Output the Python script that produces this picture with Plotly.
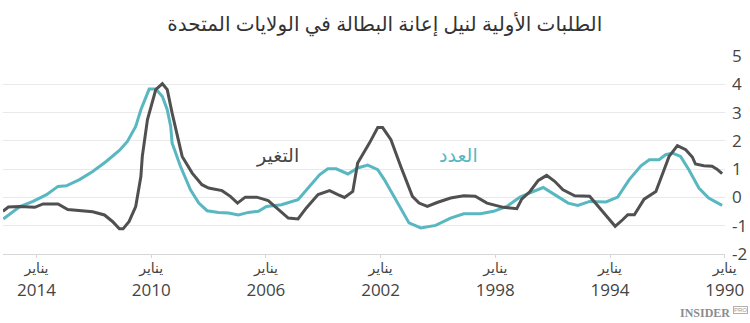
import plotly.graph_objects as go

# ---- data ----
count_years = [2015.16, 2014.58, 2014.12, 2013.65, 2013.25, 2012.96, 2012.50, 2012.04, 2011.57, 2011.11,
               2010.83, 2010.54, 2010.36, 2010.07, 2009.84, 2009.61, 2009.44, 2009.32, 2009.27, 2008.98,
               2008.63, 2008.34, 2008.05, 2007.65, 2007.30, 2006.96, 2006.61, 2006.26, 2005.98, 2005.46,
               2004.88, 2004.42, 2004.13, 2003.84, 2003.55, 2003.14, 2002.80, 2002.45, 2002.10, 2001.87,
               2001.64, 2001.35, 2001.01, 2000.60, 2000.08, 1999.56, 1999.10, 1998.52, 1998.06, 1997.60,
               1997.14, 1996.79, 1996.33, 1995.93, 1995.46, 1995.12, 1994.71, 1994.14, 1993.73, 1993.33,
               1992.92, 1992.63, 1992.29, 1992.06, 1991.82, 1991.54, 1991.25, 1990.90, 1990.56, 1990.09]
count_values = [-0.76, -0.32, -0.14, 0.10, 0.39, 0.41, 0.63, 0.92, 1.27, 1.66,
                1.98, 2.51, 3.10, 3.83, 3.83, 3.57, 3.10, 2.51, 1.92, 1.10,
                0.27, -0.20, -0.47, -0.53, -0.55, -0.62, -0.53, -0.49, -0.32, -0.26,
                -0.08, 0.45, 0.80, 1.01, 1.01, 0.83, 1.04, 1.14, 0.98, 0.63,
                0.21, -0.32, -0.90, -1.08, -0.99, -0.73, -0.58, -0.58, -0.49, -0.32,
                0.01, 0.16, 0.35, 0.10, -0.20, -0.28, -0.14, -0.16, 0.01, 0.63,
                1.12, 1.33, 1.33, 1.51, 1.57, 1.45, 0.98, 0.33, -0.02, -0.28]

change_years = [2015.17, 2014.98, 2014.58, 2014.06, 2013.77, 2013.25, 2012.91, 2012.50, 2012.04, 2011.63,
                2011.35, 2011.11, 2010.98, 2010.77, 2010.54, 2010.36, 2010.31, 2010.13, 2009.84, 2009.61,
                2009.44, 2009.27, 2008.92, 2008.57, 2008.23, 2008.00, 2007.53, 2007.24, 2006.99, 2006.72,
                2006.32, 2005.92, 2005.57, 2005.22, 2004.88, 2004.59, 2004.18, 2003.78, 2003.49, 2003.26,
                2002.97, 2002.80, 2002.39, 2002.10, 2001.93, 2001.64, 2001.30, 2000.89, 2000.66, 2000.37,
                2000.03, 1999.56, 1999.10, 1998.70, 1998.29, 1997.95, 1997.72, 1997.25, 1997.08, 1996.79,
                1996.50, 1996.21, 1995.93, 1995.64, 1995.23, 1994.71, 1994.37, 1994.08, 1993.82, 1993.56,
                1993.38, 1993.15, 1992.81, 1992.40, 1992.17, 1991.94, 1991.65, 1991.36, 1991.13, 1991.02,
                1990.73, 1990.44, 1990.27, 1990.09]
change_values = [-0.49, -0.34, -0.32, -0.35, -0.23, -0.23, -0.43, -0.46, -0.51, -0.62,
                 -0.85, -1.11, -1.11, -0.85, -0.32, 0.74, 1.45, 2.75, 3.81, 4.02,
                 3.81, 2.98, 1.45, 0.86, 0.45, 0.33, 0.24, 0.04, -0.20, 0.01,
                 0.01, -0.11, -0.43, -0.73, -0.76, -0.37, 0.10, 0.24, 0.10, 0.00,
                 0.21, 1.22, 1.92, 2.47, 2.47, 2.04, 1.10, 0.04, -0.20, -0.32,
                 -0.18, -0.02, 0.06, 0.04, -0.20, -0.30, -0.35, -0.40, -0.06, 0.21,
                 0.60, 0.78, 0.57, 0.27, 0.06, 0.04, -0.37, -0.73, -1.02, -0.79,
                 -0.61, -0.61, -0.06, 0.21, 0.86, 1.45, 1.83, 1.69, 1.43, 1.18,
                 1.12, 1.10, 1.00, 0.84]

tick_years = [2014, 2010, 2006, 2002, 1998, 1994, 1990]
month_label = "يناير"
y_ticks = [-2, -1, 0, 1, 2, 3, 4, 5]

title_text = "الطلبات الأولية لنيل إعانة البطالة في الولايات المتحدة"
count_name = "العدد"
change_name = "التغير"

assert len(count_years) == len(count_values)
assert len(change_years) == len(change_values)

TEAL = "#58b7c1"
GRAY = "#505050"
FONT = "Open Sans, DejaVu Sans, sans-serif"

fig = go.Figure()
fig.add_trace(go.Scatter(x=count_years, y=count_values, mode="lines", name=count_name,
                         line=dict(color=TEAL, width=3), hoverinfo="skip"))
fig.add_trace(go.Scatter(x=change_years, y=change_values, mode="lines", name=change_name,
                         line=dict(color=GRAY, width=3), hoverinfo="skip"))

ticktext = [f'<span style="font-size:14px">{month_label}</span><br>{y}' for y in tick_years]
y_ticktext = [str(v) for v in y_ticks]

fig.update_layout(
    width=750, height=323,
    margin=dict(l=3, r=23, t=56, b=69),
    paper_bgcolor="white", plot_bgcolor="white",
    showlegend=False,
    font=dict(family=FONT, color="#444444"),
    title=dict(text=title_text, x=0.513, xanchor="center", yref="container",
               y=1 - 24 / 323, yanchor="middle",
               font=dict(family=FONT, size=20, color="#333333")),
    xaxis=dict(range=[2015.168, 1989.99], tickvals=tick_years, ticktext=ticktext,
               showgrid=False, zeroline=False, showline=True, linecolor="#d6d6d6", linewidth=1,
               ticks="outside", ticklen=3, tickcolor="#d6d6d6", ticklabelstandoff=-5,
               tickfont=dict(family=FONT, size=17, color="#444444")),
    yaxis=dict(range=[-2, 5], tickvals=y_ticks, ticktext=y_ticktext, side="right", showgrid=True,
               gridcolor="#e9e9e9", gridwidth=1, zeroline=False, showline=False,
               ticks="", ticklabelstandoff=6,
               tickfont=dict(family=FONT, size=17, color="#444444")),
    annotations=[
        dict(x=2005.60, y=1.51, xref="x", yref="y", text=change_name, showarrow=False,
             font=dict(family=FONT, size=19, color="#444444"), xanchor="center", yanchor="middle"),
        dict(x=1999.30, y=1.51, xref="x", yref="y", text=count_name, showarrow=False,
             font=dict(family=FONT, size=19, color=TEAL), xanchor="center", yanchor="middle"),
        dict(x=1 + 7 / 724, y=-0.298, xref="paper", yref="paper", text="<b>INSIDER</b>",
             showarrow=False, xanchor="right", yanchor="middle",
             font=dict(family="Liberation Serif, serif", size=12, color="#8c8c8c")),
        dict(x=1 + 8 / 724, y=-0.285, xref="paper", yref="paper", text="PRO",
             showarrow=False, xanchor="left", yanchor="middle", borderpad=0,
             bordercolor="#b0b0b0", borderwidth=1,
             font=dict(family="Liberation Sans, sans-serif", size=6, color="#9a9a9a")),
    ],
)

fig.write_html("out.html")
